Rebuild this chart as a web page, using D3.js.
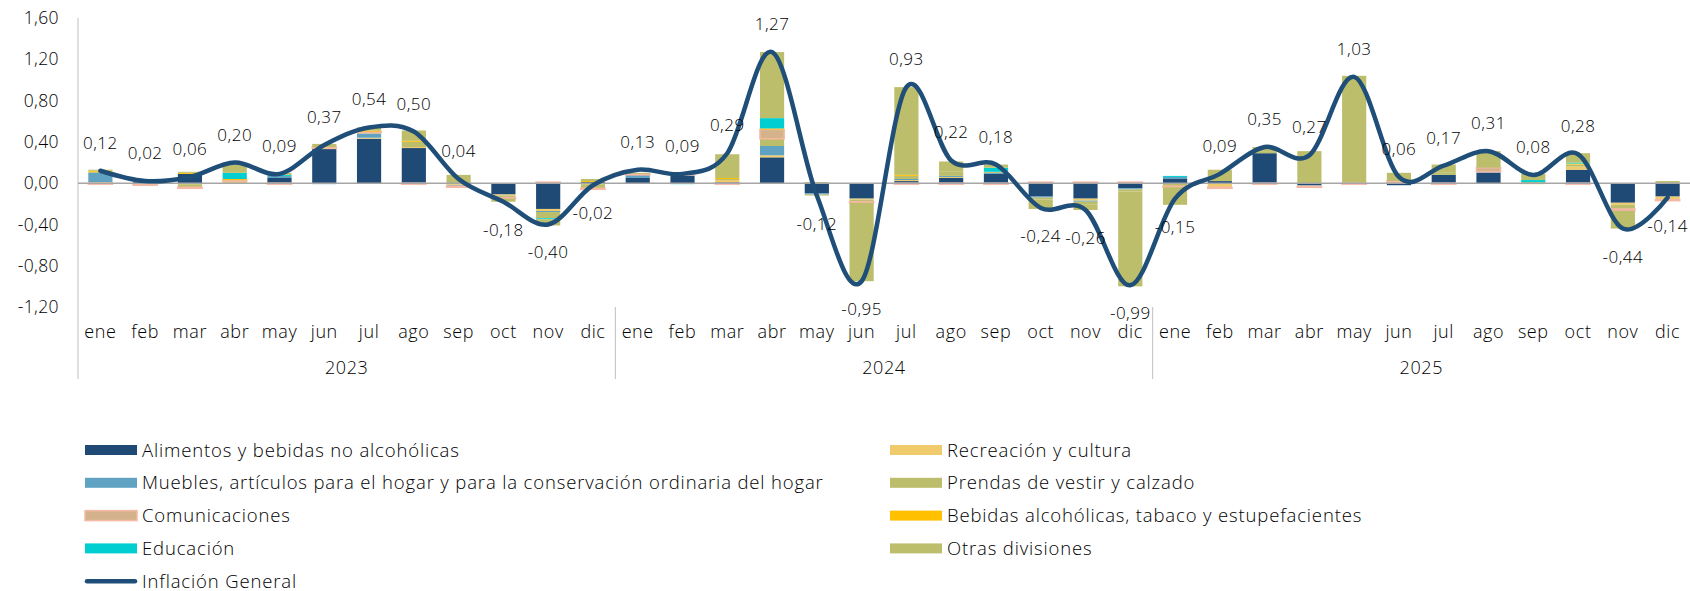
<!DOCTYPE html>
<html>
<head>
<meta charset="utf-8">
<script src="https://cdn.jsdelivr.net/npm/d3@7"></script>
<style>
  body { margin: 0; background: #fff; }
  svg text { font-family: "Open Sans", sans-serif; font-weight: 300; fill: #000; }
</style>
</head>
<body>
<div id="chart-area"></div>
<script>
const months = ["ene", "feb", "mar", "abr", "may", "jun", "jul", "ago", "sep", "oct", "nov", "dic"];
const years = ["2023", "2024", "2025"];

// monthly contribution by division, 2023 - 2025
const alimentos = [0, 0.01, 0.09, 0, 0.05, 0.33, 0.43, 0.34, -0.01, -0.11, -0.25, 0.01,
  0.05, 0.07, 0.01, 0.25, -0.10, -0.15, 0.02, 0.05, 0.09, -0.13, -0.15, -0.05,
  0.04, 0.02, 0.29, -0.02, 0, -0.02, 0.08, 0.10, 0, 0.13, -0.19, -0.13];
const recreacion = [0.01, 0, -0.01, 0.01, 0, 0.01, 0.01, 0.01, -0.01, -0.01, -0.02, -0.01,
  0, 0, 0.02, 0.02, 0, -0.01, 0.01, 0.01, 0, 0, -0.02, 0,
  0, -0.04, 0, 0, 0, 0, 0, 0, -0.01, 0.03, -0.02, -0.03];
const muebles = [0.09, 0.01, 0, 0, 0.02, -0.01, 0.04, 0, -0.01, 0, -0.01, 0,
  0.03, 0.01, 0, 0.09, -0.01, 0, 0.01, 0.01, 0.01, -0.01, -0.01, -0.01,
  0.02, 0, 0, -0.01, 0, 0, 0, 0.01, 0, 0, 0, 0];
const prendas = [0.01, -0.01, -0.03, 0.01, 0, 0, 0.01, 0.05, 0.04, -0.02, -0.06, -0.04,
  0, 0, 0.01, 0.07, -0.01, -0.02, 0.03, 0.04, 0.01, -0.02, -0.03, -0.02,
  -0.03, 0.01, 0.02, 0.05, 0.04, 0.01, 0.02, 0, 0.01, 0.02, -0.04, 0.01];
const comunicaciones = [-0.01, -0.01, -0.01, 0.01, -0.01, 0.01, 0.01, -0.01, -0.01, -0.01, 0.01, -0.01,
  0.01, 0.01, -0.01, 0.09, 0, -0.01, -0.01, -0.01, -0.01, 0.01, 0.01, 0.01,
  -0.01, -0.01, -0.01, -0.01, -0.01, 0.01, -0.01, 0.04, 0, -0.01, -0.02, -0.01];
const bebidas = [0.01, 0.01, 0.01, 0.01, 0, 0, 0.01, 0.01, 0, 0, 0, 0.01,
  0, 0, 0.01, 0.01, 0, 0, 0.01, 0, 0, 0, 0, 0,
  0, 0, 0, 0, 0, 0, 0, 0, 0, 0.01, 0, 0];
const educacion = [0, 0, 0, 0.06, 0.01, 0, 0, 0, 0, 0, -0.01, 0,
  0, -0.01, 0, 0.10, 0, 0, 0, 0, 0.04, 0, 0, 0,
  0.01, 0, 0, 0, 0, 0, 0, 0, 0.02, 0.01, 0, 0];
const otras = [0.01, 0.01, 0.01, 0.10, 0.02, 0.03, 0.03, 0.10, 0.04, -0.03, -0.06, 0.02,
  0.01, 0, 0.23, 0.64, 0.01, -0.76, 0.85, 0.10, 0.03, -0.09, -0.05, -0.92,
  -0.17, 0.10, 0.04, 0.26, 1.00, 0.08, 0.08, 0.16, 0.06, 0.09, -0.17, 0.01];
const inflacion = [0.12, 0.02, 0.06, 0.20, 0.09, 0.37, 0.54, 0.50, 0.04, -0.18, -0.40, -0.02,
  0.13, 0.09, 0.29, 1.27, -0.12, -0.95, 0.93, 0.22, 0.18, -0.24, -0.26, -0.99,
  -0.15, 0.09, 0.35, 0.27, 1.03, 0.06, 0.17, 0.31, 0.08, 0.28, -0.44, -0.14];
const yTicks = [-1.2, -0.8, -0.4, 0, 0.4, 0.8, 1.2, 1.6];

const series = [
  { key: "alimentos", name: "Alimentos y bebidas no alcohólicas", values: alimentos, color: "#1f4a76" },
  { key: "recreacion", name: "Recreación y cultura", values: recreacion, color: "#efcb6b" },
  { key: "muebles", name: "Muebles, artículos para el hogar y para la conservación ordinaria del hogar", values: muebles, color: "#5fa2c1" },
  { key: "prendas", name: "Prendas de vestir y calzado", values: prendas, color: "#bdbe6b" },
  { key: "comunicaciones", name: "Comunicaciones", values: comunicaciones, color: "#d4b38c", stroke: "#f5b9a5" },
  { key: "bebidas", name: "Bebidas alcohólicas, tabaco y estupefacientes", values: bebidas, color: "#ffc000" },
  { key: "educacion", name: "Educación", values: educacion, color: "#00ced1" },
  { key: "otras", name: "Otras divisiones", values: otras, color: "#bdbe6b" }
];

const chartSize = { width: 1690, height: 591 };
const plot = { left: 78, right: 1690, top: 18, bottom: 307 };
const lineColor = "#1f4e79";

const locale = d3.formatLocale({ decimal: ",", thousands: ".", grouping: [3], currency: ["", ""], minus: "-" });
const fmt = locale.format(".2f");

const main = function() {
  const svg = d3
    .select("#chart-area")
    .append("svg")
    .attr("width", chartSize.width)
    .attr("height", chartSize.height);

  const ids = years.flatMap(yr => months.map(m => `${m}-${yr}`));

  const x = d3
    .scaleBand()
    .domain(ids)
    .range([plot.left, plot.right])
    .paddingInner(0.46)
    .paddingOuter(0.23);

  const y = d3
    .scaleLinear()
    .domain([-1.2, 1.6])
    .range([plot.bottom, plot.top]);

  // y axis
  const yAxis = d3.axisLeft(y).tickValues(yTicks).tickSize(0).tickPadding(19).tickFormat(fmt);
  const gy = svg.append("g").attr("transform", `translate(${plot.left},0)`).call(yAxis);
  gy.select(".domain").remove();
  gy.selectAll("text").style("font-size", "17.5px").style("letter-spacing", "0.4px");

  svg.append("line")
    .attr("x1", plot.left).attr("x2", plot.left)
    .attr("y1", plot.top).attr("y2", 379)
    .attr("stroke", "#bfbfbf").attr("stroke-width", 1);

  // stacked bars
  const table = ids.map((id, i) => {
    const row = { id };
    series.forEach(s => { row[s.key] = s.values[i]; });
    return row;
  });

  const stack = d3.stack().keys(series.map(s => s.key)).offset(d3.stackOffsetDiverging);
  const layers = stack(table);

  svg.append("g")
    .selectAll("g")
    .data(layers)
    .join("g")
    .attr("fill", (d, i) => series[i].color)
    .attr("stroke", (d, i) => series[i].stroke || "none")
    .attr("stroke-width", 1.5)
    .selectAll("rect")
    .data(d => d.filter(p => p[1] !== p[0]))
    .join("rect")
    .attr("x", p => x(p.data.id))
    .attr("width", x.bandwidth())
    .attr("y", p => y(Math.max(p[0], p[1])))
    .attr("height", p => Math.abs(y(p[0]) - y(p[1])));

  // zero line
  svg.append("line")
    .attr("x1", plot.left).attr("x2", plot.right)
    .attr("y1", y(0)).attr("y2", y(0))
    .attr("stroke", "#a6a6a6").attr("stroke-width", 1.5);

  // inflation line
  const line = d3
    .line()
    .curve(d3.curveCardinal.tension(0))
    .x((v, i) => x(ids[i]) + x.bandwidth() / 2)
    .y(v => y(v));

  svg.append("path")
    .attr("d", line(inflacion))
    .attr("fill", "none")
    .attr("stroke", lineColor)
    .attr("stroke-width", 4.5)
    .attr("stroke-linecap", "round")
    .attr("stroke-linejoin", "round");

  svg.append("g")
    .selectAll("text")
    .data(inflacion)
    .join("text")
    .attr("x", (v, i) => x(ids[i]) + x.bandwidth() / 2)
    .attr("y", v => y(v) + (v >= 0 ? -28 : 28) + 6)
    .attr("text-anchor", "middle")
    .style("font-size", "17px")
    .style("letter-spacing", "0.5px")
    .text(fmt);

  // month and year axis
  const xAxis = d3.axisBottom(x).tickSize(0).tickPadding(18).tickFormat(id => id.split("-")[0]);
  const gx = svg.append("g").attr("transform", `translate(0,${plot.bottom})`).call(xAxis);
  gx.select(".domain").remove();
  gx.selectAll("text").style("font-size", "18px").style("letter-spacing", "0.6px");

  const yearW = x.step() * 12;
  years.forEach((yr, i) => {
    const x0 = plot.left + i * yearW;
    if (i > 0) {
      svg.append("line")
        .attr("x1", x0).attr("x2", x0)
        .attr("y1", plot.bottom).attr("y2", 379)
        .attr("stroke", "#bfbfbf").attr("stroke-width", 1);
    }
    svg.append("text")
      .attr("x", x0 + yearW / 2)
      .attr("y", 374)
      .attr("text-anchor", "middle")
      .style("font-size", "18px")
      .style("letter-spacing", "0.6px")
      .text(yr);
  });

  // legend, filled row by row in two columns
  const legendItems = series.map(s => ({ ...s, type: "rect" }))
    .concat([{ name: "Inflación General", type: "line", color: lineColor }]);
  const colX = [85, 890];
  const rowY = 450;
  const rowH = 32.8;

  const lg = svg.append("g")
    .selectAll("g")
    .data(legendItems)
    .join("g")
    .attr("transform", (d, i) => `translate(${colX[i % 2]},${rowY + Math.floor(i / 2) * rowH})`);

  lg.filter(d => d.type === "rect")
    .append("rect")
    .attr("x", 0).attr("y", -5)
    .attr("width", 52).attr("height", 10)
    .attr("fill", d => d.color)
    .attr("stroke", d => d.stroke || "none")
    .attr("stroke-width", 1.5);

  lg.filter(d => d.type === "line")
    .append("line")
    .attr("x1", 2).attr("x2", 50)
    .attr("y1", 0).attr("y2", 0)
    .attr("stroke", d => d.color)
    .attr("stroke-width", 4.5)
    .attr("stroke-linecap", "round");

  lg.append("text")
    .attr("x", 57)
    .attr("y", 6.5)
    .style("font-size", "18.5px")
    .style("letter-spacing", "0.85px")
    .text(d => d.name);
};

window.onload = main;
</script>
</body>
</html>
